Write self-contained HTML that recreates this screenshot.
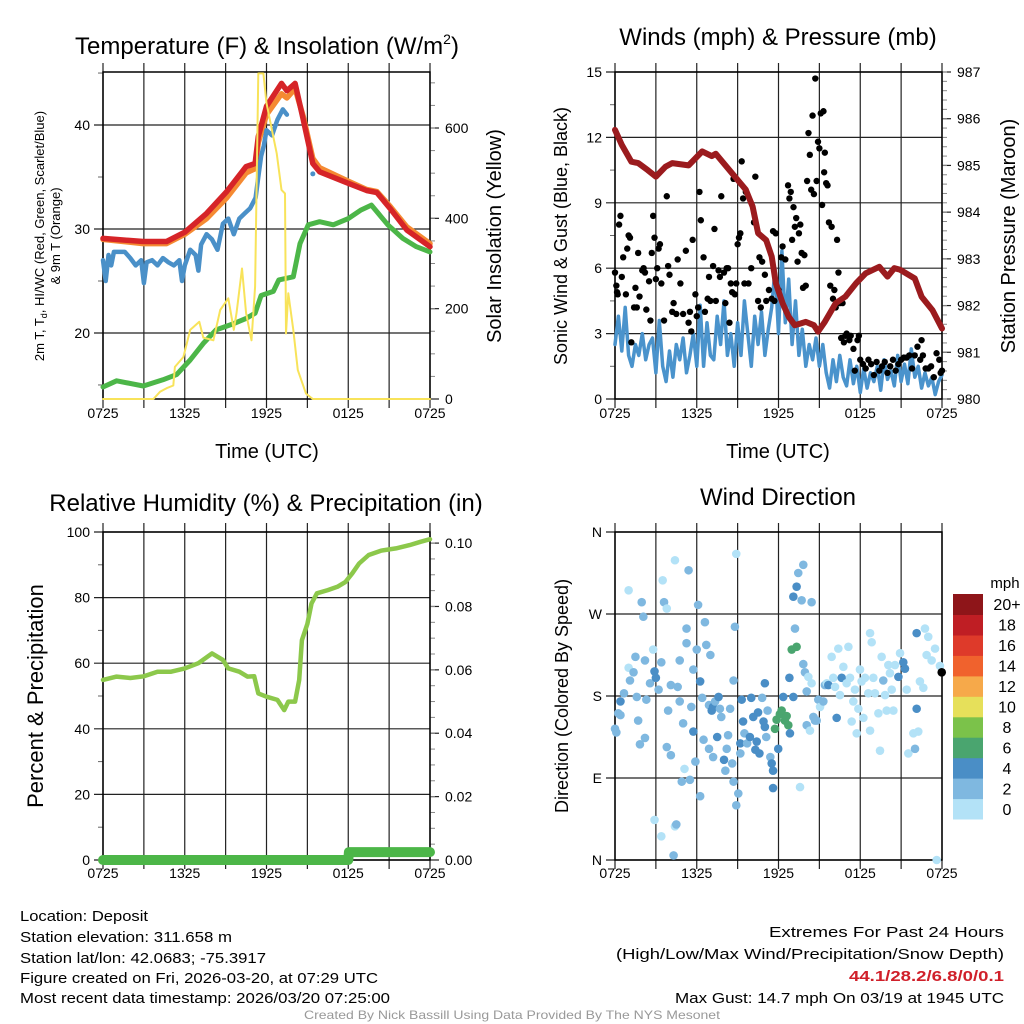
<!DOCTYPE html>
<html><head><meta charset="utf-8"><style>
html,body{margin:0;padding:0;background:#fff}
svg{display:block;font-family:"Liberation Sans",sans-serif}
</style></head><body>
<svg id="fig" width="1024" height="1024" viewBox="0 0 1024 1024" xmlns="http://www.w3.org/2000/svg">
<rect width="1024" height="1024" fill="#fff"/>
<g id="g-temp"></g>
<g id="g-wind"></g>
<g id="g-rh"></g>
<g id="g-dir"></g>

<text x="267" y="54" font-size="24" text-anchor="middle">Temperature (F) &amp; Insolation (W/m<tspan font-size="14" dy="-10">2</tspan><tspan dy="10">)</tspan></text>
<text x="778" y="45" font-size="24" text-anchor="middle">Winds (mph) &amp; Pressure (mb)</text>
<text x="266" y="511" font-size="24" text-anchor="middle">Relative Humidity (%) &amp; Precipitation (in)</text>
<text x="778" y="505" font-size="24" text-anchor="middle">Wind Direction</text>

<text x="267" y="458" font-size="20" text-anchor="middle">Time (UTC)</text>
<text x="778" y="458" font-size="20" text-anchor="middle">Time (UTC)</text>

<text transform="translate(44,236) rotate(-90)" font-size="13" text-anchor="middle">2m T, T<tspan font-size="9" dy="3">d</tspan><tspan dy="-3">, HI/WC (Red, Green, Scarlet/Blue)</tspan></text>
<text transform="translate(60,236) rotate(-90)" font-size="13" text-anchor="middle">&amp; 9m T (Orange)</text>
<text transform="translate(501,236) rotate(-90)" font-size="20" text-anchor="middle">Solar Insolation (Yellow)</text>
<text transform="translate(567,236) rotate(-90)" font-size="18" text-anchor="middle">Sonic Wind &amp; Gust (Blue, Black)</text>
<text transform="translate(1015,236) rotate(-90)" font-size="20" text-anchor="middle">Station Pressure (Maroon)</text>
<text transform="translate(43,696) rotate(-90)" font-size="22" text-anchor="middle">Percent &amp; Precipitation</text>
<text transform="translate(568,696) rotate(-90)" font-size="18" text-anchor="middle">Direction (Colored By Speed)</text>

<g font-size="15">
<text x="20" y="921" textLength="128" lengthAdjust="spacingAndGlyphs">Location: Deposit</text>
<text x="20" y="942" textLength="212" lengthAdjust="spacingAndGlyphs">Station elevation: 311.658 m</text>
<text x="20" y="963" textLength="246" lengthAdjust="spacingAndGlyphs">Station lat/lon: 42.0683; -75.3917</text>
<text x="20" y="983" textLength="358" lengthAdjust="spacingAndGlyphs">Figure created on Fri, 2026-03-20, at 07:29 UTC</text>
<text x="20" y="1003" textLength="370" lengthAdjust="spacingAndGlyphs">Most recent data timestamp: 2026/03/20 07:25:00</text>
</g>
<g font-size="15">
<text x="769" y="937" textLength="235" lengthAdjust="spacingAndGlyphs">Extremes For Past 24 Hours</text>
<text x="616" y="959" textLength="388" lengthAdjust="spacingAndGlyphs">(High/Low/Max Wind/Precipitation/Snow Depth)</text>
<text x="849" y="981" fill="#d0202a" font-weight="bold" textLength="155" lengthAdjust="spacingAndGlyphs">44.1/28.2/6.8/0/0.1</text>
<text x="675" y="1003" textLength="329" lengthAdjust="spacingAndGlyphs">Max Gust: 14.7 mph On 03/19 at 1945 UTC</text>
</g>
<text x="304" y="1019" font-size="12" fill="#999" textLength="416" lengthAdjust="spacingAndGlyphs">Created By Nick Bassill Using Data Provided By The NYS Mesonet</text>
</svg>
<script>
// ---------- DATA ----------
const xTickLabels = ["0725","1325","1925","0125","0725"];
const tempHours = [0,2.96,4.67,6.02,7.6,9.08,10.5,11.16,11.4,12.0,13.1,13.5,14.1,14.7,15.4,15.9,18.0,19.35,20.1,21.06,22.3,24];
const tempRed = [29.1,28.8,28.8,29.7,31.5,33.6,36.0,36.3,38.9,41.8,44.0,43.3,44.0,40.5,36.3,35.5,34.4,33.7,33.5,32.0,29.9,28.3];
const temp9m = [29.0,28.6,28.6,29.5,31.0,33.0,35.4,35.8,38.3,41.0,43.0,42.6,43.5,40.8,36.8,35.9,34.6,33.8,33.6,32.2,30.2,28.6];
const dewHours = [0,1.0,2.96,4.4,5.4,6.4,7.36,8.3,9.6,10.5,11.16,11.6,12.5,12.9,13.97,14.46,15.07,15.9,16.9,18.0,18.9,19.7,20.9,22.0,23.0,24];
const dewVals = [14.8,15.4,14.9,15.5,16.0,17.4,19.0,20.3,20.9,21.4,21.9,23.6,24.0,25.1,25.4,28.6,30.4,30.7,30.4,31.0,31.8,32.3,30.4,29.1,28.3,27.8];
const hiHours = [0,0.2,0.4,0.6,0.8,1.6,2.0,2.4,2.8,3.0,3.2,3.6,4.0,4.4,4.8,5.2,5.6,5.8,6.0,6.4,6.8,7.0,7.2,7.6,8.0,8.4,8.8,9.2,9.6,10.0,10.4,10.8,11.2,11.4,11.6,11.8,12.0,12.4,12.8,13.2,13.5];
const hiVals = [27.0,25.0,27.5,26.5,27.8,27.8,27.2,26.5,27.0,24.8,26.8,27.0,26.5,27.2,26.8,26.5,27.0,25.0,26.5,28.0,27.5,26.0,28.5,29.5,29.0,28.0,30.5,31.0,29.5,31.0,31.5,32.0,33.0,35.0,37.0,38.0,39.5,39.0,40.5,41.5,41.0];
const hiLoneHour = [15.4];
const hiLoneVal = [35.3];
const solHours = [0,3.7,4.18,4.67,5.16,5.28,5.9,6.4,7.07,7.36,8.1,8.6,9.2,9.6,9.8,10.2,10.5,10.9,11.16,11.4,11.77,12.0,12.4,12.75,13.1,13.36,13.43,13.6,13.97,14.3,14.9,15.4,24];
const solVals = [0,0,16,24,30,71,93,153,171,136,130,197,223,153,190,289,190,130,249,721,721,655,595,544,463,455,145,234,153,64,12,0,0];
const tempLeftTicks = [20,30,40];
const solRightTicks = [0,200,400,600];

const windStep = 0.25;
const windVals = [2.5,3.8,2.2,4.2,2.0,1.5,2.5,2.0,3.0,1.8,2.5,2.8,1.2,
 3.6,1.5,0.8,2.2,1.0,2.5,1.8,2.8,1.2,2.0,3.0,1.5,
 4.3,1.5,3.5,2.0,1.8,3.8,2.5,4.5,2.0,3.0,1.5,3.5,
 2.0,4.5,3.0,1.5,3.8,2.5,4.0,2.0,3.2,4.2,6.0,3.0,
 6.8,3.5,5.5,2.5,4.5,2.0,3.2,1.5,2.5,1.8,2.8,1.5,
 2.5,1.2,0.5,1.8,0.8,2.0,1.0,0.6,1.8,0.7,1.5,0.3,
 1.4,0.5,1.2,0.8,1.5,0.4,1.8,0.9,1.3,0.6,2.0,0.8,
 1.6,0.7,2.3,1.0,1.5,0.5,1.2,0.6,1.0,0.2,0.8,1.1];
const gustHours = [0.0,0.1,0.15,0.2,0.3,0.4,0.5,0.6,0.8,0.9,1.0,1.1,1.2,1.4,1.5,1.6,1.7,1.8,2.0,2.1,2.2,2.3,2.5,2.6,2.7,2.8,2.9,3.0,3.1,3.2,3.3,3.4,3.6,3.8,3.9,4.0,4.2,4.3,4.5,4.6,4.8,5.0,5.2,5.4,5.5,5.6,5.7,5.9,6.0,6.1,6.2,6.3,6.5,6.6,6.8,6.9,7.0,7.2,7.3,7.4,7.6,7.7,7.8,8.0,8.1,8.2,8.3,8.4,8.5,8.6,8.7,8.8,8.9,9.0,9.1,9.2,9.3,9.4,9.5,9.6,9.8,10.0,10.2,10.3,10.5,10.6,10.7,10.8,11.0,11.1,11.3,11.5,11.6,11.7,11.8,12.0,12.2,12.3,12.5,12.7,12.8,12.9,13.0,13.1,13.2,13.3,13.4,13.5,13.6,13.7,13.8,13.9,14.0,14.1,14.2,14.3,14.4,14.5,14.6,14.7,14.8,14.9,15.0,15.1,15.2,15.3,15.35,15.4,15.5,15.6,15.7,15.8,15.9,16.0,16.1,16.2,16.3,16.4,16.5,16.6,16.7,16.8,16.9,17.0,17.2,17.3,17.5,17.6,17.8,17.9,18.0,18.2,18.4,18.6,18.8,19.0,19.2,19.4,19.6,19.8,20.0,20.2,20.4,20.6,20.8,21.0,21.2,21.4,21.6,21.8,22.0,22.2,22.4,22.5,22.6,22.8,23.0,23.2,23.4,23.6,23.8,23.9,24.0];
const gustVals = [5.8,5.2,4.9,4.8,8.0,8.4,5.6,6.5,4.8,6.9,7.5,7.4,2.6,4.2,5.1,4.2,6.7,4.7,5.9,6.0,5.8,4.1,5.4,3.6,6.7,8.4,7.4,5.5,6.0,6.9,7.1,5.3,3.6,9.3,6.1,5.7,4.0,4.4,3.9,6.4,5.3,3.9,6.8,3.5,4.0,3.1,7.3,4.8,3.8,4.2,9.5,8.2,6.5,4.0,4.6,5.6,4.5,6.1,7.8,4.5,5.9,5.6,9.3,5.8,4.4,6.0,6.0,3.5,5.3,4.9,10.1,4.8,5.3,7.1,7.4,7.6,10.9,9.2,5.3,9.5,5.3,6.0,8.1,10.2,4.5,6.5,4.2,6.3,5.7,4.5,5.0,4.6,7.7,4.5,7.6,5.0,6.5,7.0,6.4,9.8,9.2,9.5,7.3,8.8,7.9,8.3,6.3,7.6,8.0,6.7,5.1,6.6,5.2,10.0,12.2,11.2,9.6,13.0,9.4,14.7,10.0,11.8,11.5,13.1,8.9,13.2,10.4,11.3,9.9,9.8,8.1,5.2,7.9,4.6,5.0,4.2,7.3,5.8,4.4,2.8,4.4,2.6,2.9,3.0,2.7,2.9,2.3,1.3,2.7,2.9,1.8,1.6,1.4,1.8,1.6,1.1,1.7,1.3,1.5,1.7,1.2,1.5,1.8,1.3,1.6,1.8,1.9,1.9,2.0,1.4,2.0,2.4,1.8,2.7,2.0,1.4,1.4,1.5,1.0,2.1,1.8,1.2,1.3];
const presHours = [0,0.5,1.2,1.7,2.4,3.0,3.7,4.2,5.4,6.4,7.1,7.4,8.6,9.6,10.1,10.5,11.1,11.5,11.8,12.3,12.75,13.2,14.0,14.6,14.9,15.4,16.2,16.9,17.7,18.4,19.4,20.0,20.5,20.9,22.0,22.5,23.3,24];
const presVals = [985.76,985.44,985.08,985.05,984.90,984.76,984.97,985.05,985.0,985.3,985.2,985.25,984.83,984.48,984.12,983.55,983.4,983.05,982.48,982.05,981.76,981.58,981.65,981.58,981.44,981.65,982.05,982.19,982.48,982.69,982.83,982.62,982.8,982.77,982.58,982.19,981.9,981.51];
const windLeftTicks = [0,3,6,9,12,15];
const presRightTicks = [980,981,982,983,984,985,986,987];

const rhHours = [0,1,2,3,4,5,6,7,8,8.8,9.2,10,10.6,11.1,11.4,12,12.8,13.3,13.6,14.1,14.4,14.6,15,15.3,15.7,16.5,17.2,17.8,18.3,18.8,19.5,20.4,21.5,22.5,23.3,24];
const rhVals = [54.9,55.9,55.5,56,57.4,57.4,58.4,60,63,61,58.4,57.4,55.9,56,50.8,49.8,48.8,45.7,48.3,48.3,54.9,67,72,78.2,81.3,82.3,83.3,84.8,87.4,90.4,93,94.3,95,96,97,97.8];
const precipHours = [0,18.0,18.05,24];
const precipVals = [0,0,0.0025,0.0025];
const rhLeftTicks = [0,20,40,60,80,100];
const precipRightTicks = ["0.00","0.02","0.04","0.06","0.08","0.10"];

const dirLabels = ["N","E","S","W","N"];
const dirHours = [0,0.1,0.24,0.4,0.4,0.66,1.0,1.0,1.1,1.36,1.5,1.6,1.7,1.83,1.96,2.08,2.2,2.2,2.3,2.57,2.8,2.9,3.0,3.2,2.9,3.4,3.5,3.6,3.8,3.4,3.8,3.9,4.1,4.1,4.4,4.4,4.5,4.3,4.6,4.75,4.75,4.9,5.0,5.1,5.25,5.25,5.4,5.5,5.6,5.75,5.75,5.9,6.0,6.1,6.25,6.25,6.4,6.5,6.6,6.7,6.9,6.9,7.0,7.1,7.2,7.35,7.2,7.5,7.6,7.7,7.8,8.0,8.1,8.2,8.3,8.45,8.6,8.7,8.7,8.8,8.9,8.9,9.05,9.2,9.2,9.3,9.4,9.5,9.7,9.9,10.0,10.15,10.3,10.4,10.5,10.6,10.8,10.9,11.0,11.0,11.1,11.2,11.4,11.5,11.6,11.6,11.74,11.86,11.98,12.1,12.23,12.35,12.47,12.6,12.72,12.8,12.84,12.97,13.09,13.09,13.21,13.33,13.33,13.45,13.58,13.7,13.82,13.82,13.94,14.07,14.07,14.19,14.31,14.43,14.43,14.56,14.68,14.8,14.92,15.05,15.29,15.41,15.54,15.66,15.9,16.02,16.15,16.27,16.39,16.51,16.64,16.76,17.0,17.13,17.25,17.37,17.49,17.61,17.74,17.86,17.98,18.1,18.23,18.35,18.59,18.72,18.84,18.72,18.96,19.08,19.33,19.45,19.57,19.69,19.82,19.94,20.06,20.18,20.31,20.43,20.55,20.8,20.92,21.16,21.28,21.41,21.53,21.9,22.02,22.14,22.14,22.26,22.38,22.63,22.75,22.87,22.99,23.24,23.49,23.61,23.85,23.98];
const dirVals = [144,140,161,174,159,183,296,211,197,206,223,179,153,127,283,267,134,219,176,194,231,207,200,187,44,217,307,283,276,26,124,164,192,115,329,37,39,5,190,219,174,86,150,100,238,254,318,88,168,141,209,108,231,280,70,196,178,132,261,236,170,122,225,164,168,174,113,135,179,166,157,110,98,122,137,166,106,197,86,256,336,60,73,128,117,176,152,139,128,135,178,157,121,130,162,117,178,152,146,194,135,164,113,106,98,79,144,154,122,160,164,179,153,158,148,200,139,231,179,289,254,234,300,315,80,285,324,215,206,185,148,201,142,283,194,157,153,153,176,168,174,192,194,192,223,200,190,156,232,181,200,212,194,234,200,152,174,187,139,166,209,196,156,200,183,249,239,142,200,183,161,120,223,197,181,164,214,205,187,164,214,201,227,217,210,187,117,139,122,249,166,141,196,189,254,225,245,219,232,0,213,206];
const dirSpeed = [3,3,3,5,3,3,1,1,3,3,3,3,3,3,3,3,3,3,3,3,1,5,5,3,1,3,1,3,1,1,3,3,3,3,1,1,3,3,3,3,3,3,3,1,3,3,3,3,3,5,3,3,3,3,3,5,3,3,3,3,3,3,3,5,5,3,3,5,5,3,3,5,3,3,3,3,3,3,3,3,1,3,3,5,3,5,5,3,3,5,5,5,5,5,5,5,3,5,5,5,3,3,3,5,5,5,7,7,5,7,7,5,7,7,7,5,5,7,5,5,3,7,5,3,1,3,3,3,3,3,3,1,1,3,1,3,3,3,3,1,3,3,1,5,1,1,1,5,1,1,5,1,1,1,1,1,1,1,1,1,1,1,1,1,1,1,1,1,1,1,1,1,1,3,1,1,1,1,1,1,1,5,1,5,5,1,1,1,3,5,5,1,1,1,1,1,1,1,1,1,1];
const cbLabels = ["0","2","4","6","8","10","12","14","16","18","20+"];
const cbColors = ["#b3e2f7","#7fb8e0","#4a8ec6","#4aa56f","#7bc24a","#e6e05a","#f6a94a","#f0622d","#de3a2a","#bf1e24","#8e1519"];

// ---------- HELPERS ----------
const NS = "http://www.w3.org/2000/svg";
function mk(parent, tag, attrs){ const e=document.createElementNS(NS,tag); for(const k in attrs) e.setAttribute(k,attrs[k]); parent.appendChild(e); return e; }
function mkText(parent, x, y, str, size, anchor){ const t=mk(parent,"text",{x:x,y:y,"font-size":size,"text-anchor":anchor}); t.textContent=str; return t; }

function scales(P, lMin, lMax, rMin, rMax){
  P.xs = h => P.x0 + h/24*(P.x1-P.x0);
  P.ly = v => P.y1 - (v-lMin)/(lMax-lMin)*(P.y1-P.y0);
  P.ry = v => P.y1 - (v-rMin)/(rMax-rMin)*(P.y1-P.y0);
}

function frame(g, P, leftMaj, leftLab, leftMin, rightMaj, rightLab, rightMin, xLabY){
  for(let i=0;i<=8;i++){
    const x=P.xs(i*3);
    const l=mk(g,"line",{x1:x,x2:x,y1:P.y0-9,y2:P.y1+9,stroke:"#222","stroke-width":1.2});
    
    
  }
  xTickLabels.forEach((s,i)=>{
    const t=mkText(g,P.xs(i*6),xLabY,s,14,"middle");
    
    
  });
  leftMaj.forEach((v,i)=>{
    const y=P.ly(v);
    const l=mk(g,"line",{x1:P.x0-9,x2:P.x1,y1:y,y2:y,stroke:"#222","stroke-width":1.2});
    
    
    const t=mkText(g,P.x0-13,y+5,leftLab[i],14,"end");
    
    
  });
  leftMin.forEach(v=>{ const y=P.ly(v); mk(g,"line",{x1:P.x0-5,x2:P.x0,y1:y,y2:y,stroke:"#666","stroke-width":1}); });
  rightMaj.forEach((v,i)=>{
    const y=P.ry(v);
    mk(g,"line",{x1:P.x1,x2:P.x1+9,y1:y,y2:y,stroke:"#222","stroke-width":1.2});
    const t=mkText(g,P.x1+15,y+5,rightLab[i],14,"start");
    
    
  });
  rightMin.forEach(v=>{ const y=P.ry(v); mk(g,"line",{x1:P.x1,x2:P.x1+5,y1:y,y2:y,stroke:"#888","stroke-width":1}); });
  const r=mk(g,"rect",{x:P.x0,y:P.y0,width:P.x1-P.x0,height:P.y1-P.y0,fill:"none",stroke:"#000","stroke-width":1.5});
  
  
}
function poly(g, P, hours, vals, yf, color, w, name){
  const pts=hours.map((h,i)=>P.xs(h).toFixed(1)+","+yf(vals[i]).toFixed(1)).join(" ");
  const l=mk(g,"polyline",{points:pts,fill:"none",stroke:color,"stroke-width":w,"stroke-linejoin":"round","stroke-linecap":"round"});
  
  
  return l;
}
function range(a,b,s){const r=[];for(let v=a;v<=b+1e-9;v+=s)r.push(+v.toFixed(4));return r;}

// ---------- PANEL 1: Temperature ----------
{
  const g=document.getElementById("g-temp");
  const P={x0:103,x1:430,y0:72,y1:399};
  scales(P, 13.65, 45.1, 0, 724);
  frame(g,P,tempLeftTicks,tempLeftTicks.map(String),[15,25,35,45],solRightTicks,solRightTicks.map(String),range(50,700,50),418);
  poly(g,P,dewHours,dewVals,P.ly,"#4cb648",5,"dewpoint-line");
  poly(g,P,tempHours,temp9m,P.ly,"#f58a32",5.5,"temp-9m-line");
  poly(g,P,tempHours,tempRed,P.ly,"#d62428",5.5,"temp-2m-line");
  poly(g,P,hiHours,hiVals,P.ly,"#4a90c8",4.5,"heat-index-line");
  hiLoneHour.forEach((h,i)=>{
    const c=mk(g,"circle",{cx:P.xs(h),cy:P.ly(hiLoneVal[i]),r:2.5,fill:"#4a90c8"});
    
    
  });
  poly(g,P,solHours,solVals,P.ry,"#f8e35a",2,"insolation-line");
}
// ---------- PANEL 2: Wind ----------
{
  const g=document.getElementById("g-wind");
  const P={x0:615,x1:942,y0:72,y1:399};
  scales(P, 0, 15, 980, 987);
  frame(g,P,windLeftTicks,windLeftTicks.map(String),range(1.5,13.5,3),presRightTicks,presRightTicks.map(String),range(980,987,0.2),418);
  poly(g,P,windVals.map((v,i)=>i*windStep),windVals,P.ly,"#4a93cc",3.5,"sonic-wind-line");
  gustHours.forEach((h,i)=>{
    const c=mk(g,"circle",{cx:P.xs(h),cy:P.ly(gustVals[i]),r:3.2,fill:"#000"});
    
    
  });
  poly(g,P,presHours,presVals,P.ry,"#9b1b1e",6,"pressure-line");
}
// ---------- PANEL 3: RH ----------
{
  const g=document.getElementById("g-rh");
  const P={x0:103,x1:430,y0:532,y1:860};
  scales(P, 0, 100, 0, 0.1035);
  frame(g,P,rhLeftTicks,rhLeftTicks.map(String),range(10,90,20),precipRightTicks.map(Number),precipRightTicks,range(0.005,0.1,0.005),878);
  poly(g,P,rhHours,rhVals,P.ly,"#8cc84b",4.5,"rh-line");
  poly(g,P,precipHours,precipVals,P.ry,"#4cb648",10,"precip-line");
}
// ---------- PANEL 4: Direction ----------
{
  const g=document.getElementById("g-dir");
  const P={x0:615,x1:942,y0:532,y1:860};
  scales(P, 0, 360, 0, 360);
  frame(g,P,[0,90,180,270,360],dirLabels,[],[],[],[],878);
  dirHours.forEach((h,i)=>{
    const c=mk(g,"circle",{cx:P.xs(h),cy:P.ly(dirVals[i]),r:4.3,fill:cbColors[Math.min(10,Math.floor(dirSpeed[i]/2))]});
    
    
  });
  const cbTop=594, cbH=225/11;
  cbColors.forEach((col,i)=>{
    const y=cbTop+(10-i)*cbH;
    const r=mk(g,"rect",{x:953,y:y.toFixed(1),width:30,height:(cbH+0.5).toFixed(1),fill:col});
    
    
    const t=mkText(g,1007,y+cbH/2+6,cbLabels[i],16,"middle");
    
    
  });
  const u=mkText(g,1005,588,"mph",15,"middle");
  
  
}
</script>
</body></html>
